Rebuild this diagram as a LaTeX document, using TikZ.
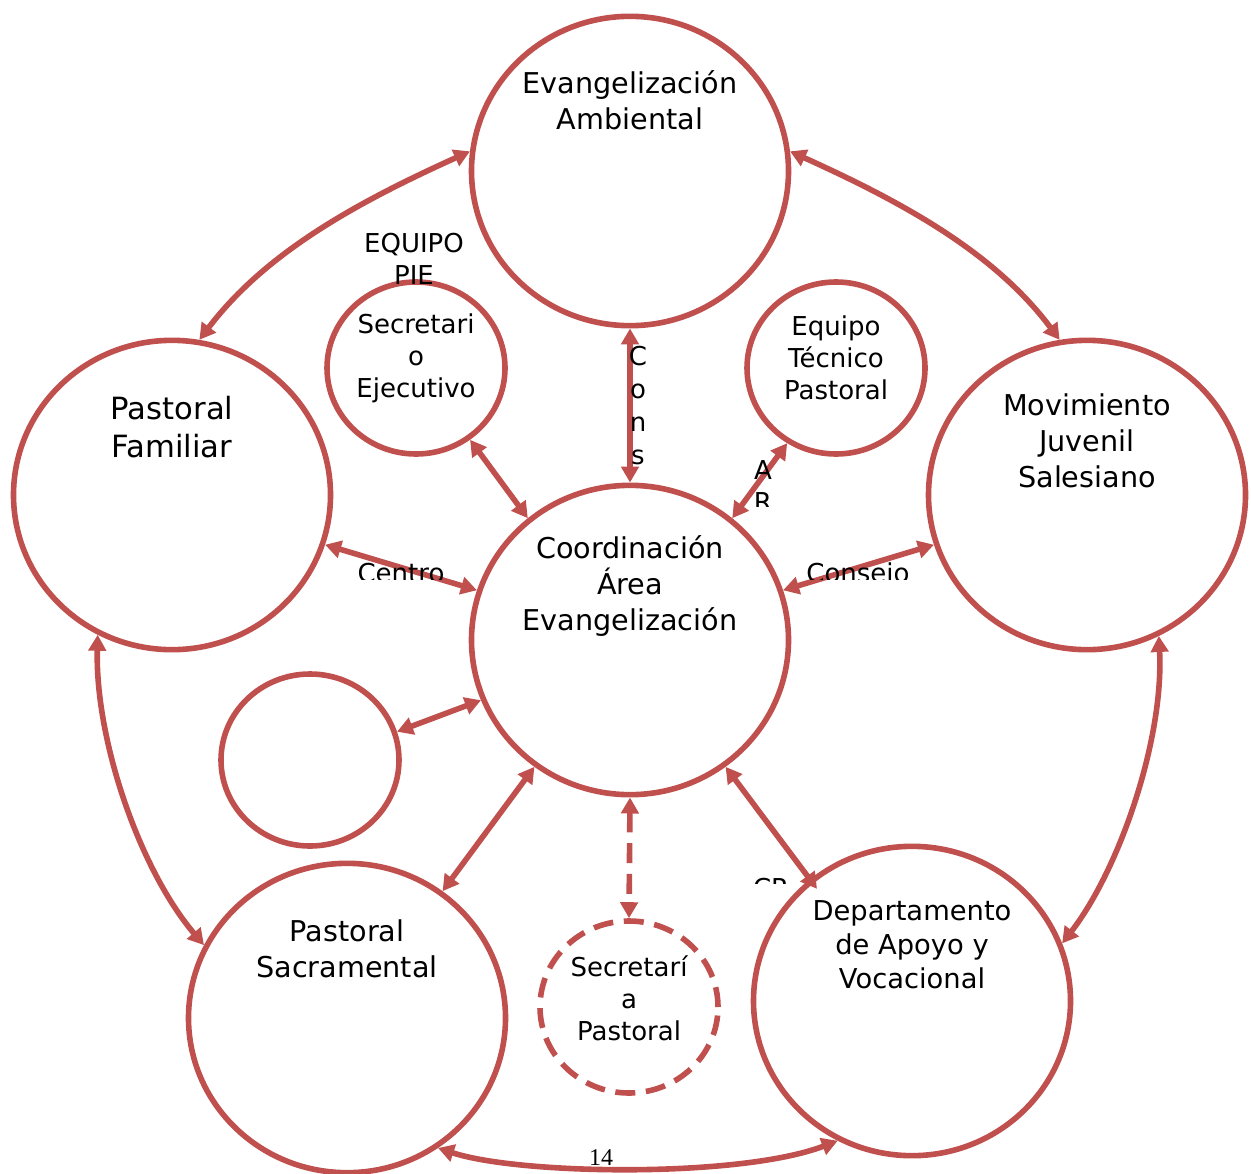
\documentclass[tikz,border=0pt]{standalone}
\usepackage{fontspec}
\setmainfont{DejaVu Sans}
\newfontfamily\numfont{Liberation Serif}
\usetikzlibrary{arrows.meta,shapes.geometric}
\definecolor{accred}{HTML}{C0504D}
\begin{document}
\begin{tikzpicture}[x=0.75pt,y=-0.75pt,
  big/.style={ellipse,draw=accred,line width=4.2pt,inner sep=0pt,minimum width=237.75pt,minimum height=232pt},
  small/.style={ellipse,draw=accred,line width=4.2pt,inner sep=0pt,minimum width=133.5pt,minimum height=129pt},
  conn/.style={draw=accred,line width=4.2pt,{Triangle[length=12pt,width=13pt]}-{Triangle[length=12pt,width=13pt]}},
  bigtxt/.style={align=center,font=\fontsize{21.5}{27}\selectfont,inner sep=0pt},
  midtxt/.style={align=center,font=\fontsize{20.5}{25.5}\selectfont,inner sep=0pt},
  smalltxt/.style={align=center,font=\fontsize{19.5}{24}\selectfont,inner sep=0pt},
  lbl/.style={font=\fontsize{19.5}{24}\selectfont,inner sep=0pt}
]
\useasboundingbox (0,0) rectangle (1251,1173);

% circles
\node[big] (top) at (630,171) {};
\node[big] (fam) at (172,495) {};
\node[big] (mov) at (1087,495) {};
\node[big] (coord) at (630,640) {};
\node[big] (sac) at (347,1018) {};
\node[big] (dep) at (912,1001) {};
\node[small] (sec) at (416,368) {};
\node[small] (eq) at (836,368) {};
\node[small] (empty) at (310,760) {};
\node[small,dash pattern=on 15pt off 8pt] (secp) at (629,1007) {};

% curved connectors
\draw[conn] (fam.80) .. controls (266,252) and (358,202) .. (top.173);
\draw[conn] (top.7) .. controls (902,202) and (994,252) .. (mov.100);
\draw[conn] (fam.242) .. controls (95,740) and (140,870) .. (sac.153);
\draw[conn] (mov.297) .. controls (1164,740) and (1119,870) .. (dep.21);
\draw[conn] (sac.305) .. controls (520,1175) and (740,1178) .. (dep.242);

% straight connectors
\draw[conn] (coord.90) -- (top.270);
\draw[conn] (coord.130) -- (sec.307);
\draw[conn] (coord.50) -- (eq.237);
\draw[conn] (coord.162) -- (fam.342);
\draw[conn] (coord.18) -- (mov.198);
\draw[conn] (coord.202) -- (empty.18);
\draw[conn] (coord.233) -- (sac.53);
\draw[conn,shorten >=-9pt] (coord.307) -- (dep.130);
\draw[conn,dash pattern=on 15pt off 8pt] (coord.270) -- (secp.90);

% texts
\node[bigtxt] (ttop) at (630,100) {Evangelización\\Ambiental};
\node[align=center,font=\fontsize{23}{28.5}\selectfont,inner sep=0pt] (tfam) at (172,427) {Pastoral\\Familiar};
\node[bigtxt] (tmov) at (1087,441) {Movimiento\\Juvenil\\Salesiano};
\node[bigtxt] (tcoord) at (630,586) {Coordinación\\Área\\Evangelización};
\node[bigtxt] (tsac) at (347,949) {Pastoral\\Sacramental};
\node[midtxt] (tdep) at (912,945) {Departamento\\de Apoyo y\\Vocacional};
\node[smalltxt] (tsec) at (416,358) {Secretari\\o\\Ejecutivo};
\node[smalltxt] (teq) at (836,358) {Equipo\\Técnico\\Pastoral};
\node[smalltxt] (tsecp) at (629,998) {Secretarí\\a\\Pastoral};
\node[smalltxt] (tpie) at (414,259) {EQUIPO\\PIE};
\node[align=center,font=\fontsize{19.5}{24.75}\selectfont,inner sep=0pt] (tcons) at (638,406) {C\\o\\n\\s};

% clipped labels
\begin{scope}
  \clip (730,440) rectangle (800,506);
  \node[align=center,font=\fontsize{19.5}{24}\selectfont,inner sep=0pt,anchor=north] (tar) at (763,460) {A\\R};
\end{scope}
\begin{scope}
  \clip (340,550) rectangle (460,579);
  \node[lbl,anchor=base] (tcentro) at (401,582) {Centro};
\end{scope}
\begin{scope}
  \clip (790,550) rectangle (930,579);
  \node[lbl,anchor=base] (tconsejo) at (858,582) {Consejo};
\end{scope}
\begin{scope}
  \clip (740,860) rectangle (800,883);
  \node[lbl,anchor=base] (tcp) at (770,897) {CP};
\end{scope}

\node[font=\numfont\fontsize{18}{21}\selectfont,inner sep=0pt] (pnum) at (601,1158) {14};
\end{tikzpicture}
\end{document}
